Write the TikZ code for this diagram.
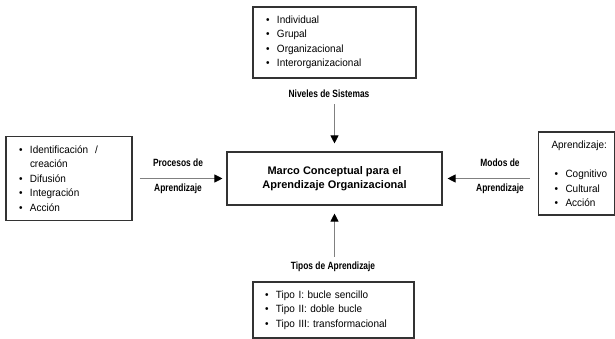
\documentclass[tikz,border=0pt]{standalone}
\usepackage{fontspec}
\setmainfont{Liberation Sans}
\newfontfamily\boxfont{Liberation Sans}[FakeStretch=0.95]
\newfontfamily\labelfont{Liberation Sans}[FakeStretch=0.8]
\usetikzlibrary{arrows.meta}
% bullet with fixed width, and matching indent for wrapped lines
\newcommand\bul{\makebox[11pt][l]{\textbullet}}
\newcommand\cont{\hspace*{11pt}}
\begin{document}
\begin{tikzpicture}[x=1pt,y=-1pt,
  box/.style={draw=black!80, line width=1.1pt, inner ysep=0pt, align=left,
    font=\boxfont\fontsize{10.5}{14.5}\selectfont},
  lbl/.style={inner sep=0pt, font=\labelfont\bfseries\fontsize{10.5}{12}\selectfont},
  pairlbl/.style={inner sep=0pt, align=center,
    font=\labelfont\bfseries\fontsize{10.5}{25}\selectfont},
  arr/.style={draw=black!50, line width=0.8pt,
    -{Triangle[length=8pt,width=8pt,color=black]}}]
\useasboundingbox (0,0) rectangle (615,339);

% central concept
\node[draw=black!80, line width=1.1pt, minimum width=215pt, minimum height=53pt,
  align=center, font=\bfseries\fontsize{11}{14}\selectfont]
  (center) at (334.5,178.5) {Marco Conceptual para el\\Aprendizaje Organizacional};

% surrounding boxes
\node[box, text width=137pt, inner xsep=13pt, minimum height=71pt]
  (nivBox) at (334.5,42.5)
  {\bul Individual\\ \bul Grupal\\ \bul Organizacional\\ \bul Interorganizacional};
\node[box, text width=100pt, inner xsep=13pt, minimum height=84pt]
  (procBox) at (69,178.5)
  {\bul Identificación \ /\\ \cont creación\\ \bul Difusión\\ \bul Integración\\ \bul Acción};
\node[box, text width=50pt, inner xsep=13pt, minimum height=83pt]
  (modBox) at (576.5,173.5)
  {Aprendizaje:\\[15pt] \hspace*{3pt}\bul Cognitivo\\ \hspace*{3pt}\bul Cultural\\ \hspace*{3pt}\bul Acción};
\node[box, text width=137pt, inner xsep=12pt, minimum height=56pt]
  (tipBox) at (333.5,310)
  {\bul Tipo I: bucle sencillo\\ \bul Tipo II: doble bucle\\ \bul Tipo III: transformacional};

% connector labels
\node[lbl] (nivLbl) at (329,94) {Niveles de Sistemas};
\node[lbl] (tipLbl) at (333,267) {Tipos de Aprendizaje};
\node[pairlbl] (procLbl) at (178,176.5) {Procesos de\\Aprendizaje};
\node[pairlbl] (modLbl) at (500,176.5) {Modos de\\Aprendizaje};

% connectors into the central concept
\draw[arr, shorten <=6pt, shorten >=8pt] (nivLbl.south -| center.north) -- (center.north);
\draw[arr, shorten <=5pt, shorten >=8pt] (tipLbl.north -| center.south) -- (center.south);
\draw[arr, shorten <=7pt, shorten >=4pt] (procBox.east) -- (center.west);
\draw[arr, shorten <=8pt, shorten >=5pt] (modBox.west |- center.east) -- (center.east);
\end{tikzpicture}
\end{document}
